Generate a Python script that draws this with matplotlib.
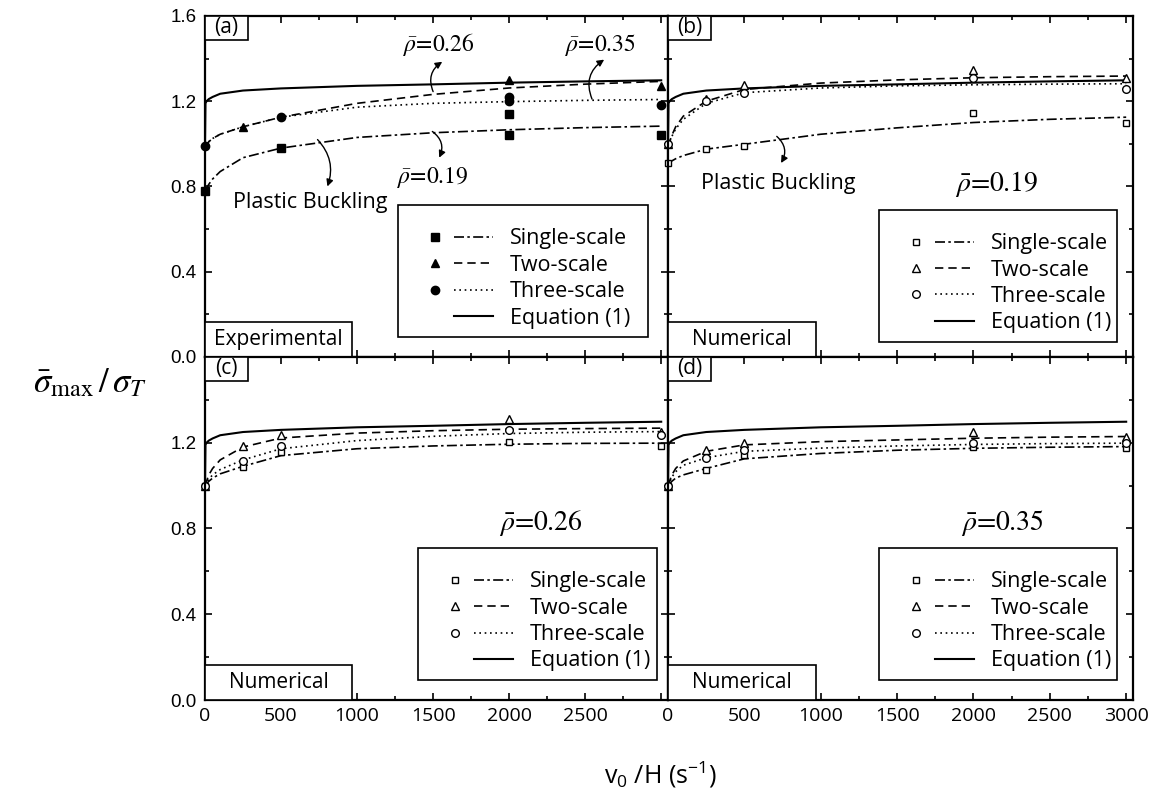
import matplotlib
matplotlib.use("Agg")
import matplotlib.pyplot as plt
from matplotlib.lines import Line2D
from matplotlib.patches import Rectangle
from matplotlib.legend_handler import HandlerBase
from matplotlib.ticker import MultipleLocator

# ---- data ----
eq_x = [0, 3, 10, 25, 50, 100, 250, 500, 1000, 1500, 2000, 2500, 3000]
eq_y = [1.0, 1.19, 1.20, 1.21, 1.22, 1.235, 1.25, 1.26, 1.272, 1.279, 1.287, 1.293, 1.298]

fit_x = [0, 25, 50, 100, 250, 500, 1000, 1500, 2000, 2500, 3000]

# (a) experimental
a_x_single = [0, 500, 2000, 2000, 3000]
a_single = [0.78, 0.98, 1.14, 1.04, 1.04]
a_x_two = [250, 2000, 3000]
a_two = [1.08, 1.30, 1.27]
a_x_three = [0, 500, 2000, 2000, 3000]
a_three = [0.99, 1.125, 1.22, 1.20, 1.18]
a_fit_single = [0.78, 0.81, 0.835, 0.87, 0.935, 0.98, 1.03, 1.052, 1.066, 1.076, 1.083]
a_fit_two = [0.99, 1.01, 1.025, 1.045, 1.08, 1.125, 1.19, 1.232, 1.262, 1.28, 1.293]
a_fit_three = [0.99, 1.01, 1.025, 1.045, 1.08, 1.125, 1.172, 1.19, 1.198, 1.204, 1.208]

# numerical
num_x = [0, 250, 500, 2000, 3000]
b_single = [0.91, 0.975, 0.99, 1.145, 1.10]
b_two = [1.0, 1.21, 1.275, 1.345, 1.31]
b_three = [1.0, 1.20, 1.24, 1.31, 1.255]
b_fit_single = [0.905, 0.92, 0.93, 0.945, 0.975, 0.998, 1.045, 1.075, 1.10, 1.115, 1.125]
b_fit_two = [0.99, 1.04, 1.08, 1.13, 1.20, 1.255, 1.285, 1.30, 1.31, 1.315, 1.318]
b_fit_three = [0.99, 1.035, 1.07, 1.115, 1.19, 1.24, 1.262, 1.272, 1.277, 1.28, 1.282]

c_single = [1.0, 1.088, 1.158, 1.205, 1.185]
c_two = [1.0, 1.185, 1.236, 1.31, 1.25]
c_three = [1.0, 1.115, 1.185, 1.26, 1.236]
c_fit_single = [1.0, 1.02, 1.035, 1.055, 1.09, 1.14, 1.172, 1.185, 1.193, 1.197, 1.198]
c_fit_two = [1.0, 1.05, 1.08, 1.12, 1.18, 1.222, 1.245, 1.256, 1.263, 1.266, 1.268]
c_fit_three = [1.0, 1.03, 1.05, 1.075, 1.12, 1.172, 1.21, 1.23, 1.243, 1.249, 1.252]

d_single = [1.0, 1.073, 1.143, 1.182, 1.174]
d_two = [1.0, 1.166, 1.20, 1.249, 1.228]
d_three = [1.0, 1.127, 1.166, 1.20, 1.20]
d_fit_single = [1.0, 1.02, 1.035, 1.05, 1.08, 1.125, 1.15, 1.165, 1.174, 1.179, 1.182]
d_fit_two = [1.0, 1.05, 1.08, 1.115, 1.16, 1.19, 1.205, 1.213, 1.221, 1.226, 1.229]
d_fit_three = [1.0, 1.04, 1.065, 1.095, 1.13, 1.16, 1.175, 1.185, 1.192, 1.196, 1.198]

series_names = ["Single-scale", "Two-scale", "Three-scale", "Equation (1)"]

SANS = ["Open Sans", "DejaVu Sans"]
DASHDOT = (0, (6, 2, 1.5, 2))
DASHED = (0, (5, 3))
DOTTED = (0, (1, 2.2))


class MarkerThenLine(HandlerBase):
    # marker on the left, line sample on the right (like the original legend)
    def create_artists(self, legend, orig_handle, xdescent, ydescent,
                       width, height, fontsize, trans):
        mk, ln = orig_handle
        y = height / 2 - ydescent
        x0 = -xdescent
        out = []
        if mk is not None:
            m = Line2D([x0 + 0.33 * width], [y])
            m.update_from(mk)
            m.set_linestyle("none")
            m.set_transform(trans)
            out.append(m)
        l = Line2D([x0 + 0.55 * width, x0 + width], [y, y])
        l.update_from(ln)
        l.set_marker("none")
        l.set_transform(trans)
        out.append(l)
        return out


fig = plt.figure(figsize=(11.53, 7.97), dpi=100)
rects = {
    "a": [0.1778, 0.5521, 0.4016, 0.4279],
    "b": [0.5794, 0.5521, 0.4033, 0.4279],
    "c": [0.1778, 0.1217, 0.4016, 0.4304],
    "d": [0.5794, 0.1217, 0.4033, 0.4304],
}
# legend frame placement (x0, y0, width) in axes fraction
leg_box = {
    "a": (0.417, 0.058, 0.540),
    "b": (0.454, 0.044, 0.512),
    "c": (0.460, 0.058, 0.516),
    "d": (0.454, 0.058, 0.512),
}


def draw_panel(key, mx_s, ys, mx_t, yt, mx_h, yh, fs, ft, fh, filled, kind):
    ax = fig.add_axes(rects[key])
    fc = "k" if filled else "white"
    ms = 6 if filled else 5.5
    l_s, = ax.plot(fit_x, fs, color="k", lw=1.2, ls=DASHDOT)
    l_t, = ax.plot(fit_x, ft, color="k", lw=1.2, ls=DASHED)
    l_h, = ax.plot(fit_x, fh, color="k", lw=1.2, ls=DOTTED)
    l_e, = ax.plot(eq_x, eq_y, color="k", lw=1.5)
    m_s, = ax.plot(mx_s, ys, ls="none", marker="s", ms=ms * 0.9, mfc=fc, mec="k", mew=1, clip_on=False)
    m_t, = ax.plot(mx_t, yt, ls="none", marker="^", ms=ms, mfc=fc, mec="k", mew=1, clip_on=False)
    m_h, = ax.plot(mx_h, yh, ls="none", marker="o", ms=ms, mfc=fc, mec="k", mew=1, clip_on=False)

    ax.set_xlim(0, 3045)
    ax.set_ylim(0, 1.6)
    ax.xaxis.set_major_locator(MultipleLocator(500))
    ax.xaxis.set_minor_locator(MultipleLocator(250))
    ax.yaxis.set_major_locator(MultipleLocator(0.4))
    ax.yaxis.set_minor_locator(MultipleLocator(0.2))
    ax.tick_params(which="both", direction="in", top=True, right=True, width=1.2)
    ax.tick_params(which="major", length=5)
    ax.tick_params(which="minor", length=3)
    for s in ax.spines.values():
        s.set_linewidth(1.6)

    if key in ("a", "c"):
        ax.set_yticks([0.0, 0.4, 0.8, 1.2, 1.6] if key == "a" else [0.0, 0.4, 0.8, 1.2])
        ax.set_yticklabels([f"{v:.1f}" for v in ax.get_yticks()], fontfamily="Liberation Sans", fontsize=13.5)
        ax.yaxis.set_minor_locator(MultipleLocator(0.2))
        ax.tick_params(axis="y", pad=6)
    else:
        ax.tick_params(labelleft=False)
    if key in ("c", "d"):
        ticks = [0, 500, 1000, 1500, 2000, 2500, 3000]
        ax.set_xticks(ticks)
        labs = [str(t) for t in ticks]
        if key == "c":
            labs[-1] = ""
        ax.set_xticklabels(labs, fontfamily=SANS, fontsize=14)
        ax.tick_params(axis="x", pad=5)
    else:
        ax.tick_params(labelbottom=False)

    # panel tag box and source box
    ax.add_patch(Rectangle((0, 1 - 0.07), 0.093, 0.07, transform=ax.transAxes,
                           fc="white", ec="k", lw=1.2, zorder=5, clip_on=False))
    ax.text(0.0465, 1 - 0.035, f"({key})", transform=ax.transAxes, ha="center", va="center",
            fontsize=15, fontfamily=SANS, zorder=6)
    ax.add_patch(Rectangle((0, 0), 0.3175, 0.103, transform=ax.transAxes,
                           fc="white", ec="k", lw=1.2, zorder=5, clip_on=False))
    ax.text(0.159, 0.05, kind, transform=ax.transAxes, ha="center", va="center",
            fontsize=15, fontfamily=SANS, zorder=6)

    handles = [(m_s, l_s), (m_t, l_t), (m_h, l_h), (None, l_e)]
    x0, y0, w = leg_box[key]
    leg = ax.legend(handles, series_names, handler_map={tuple: MarkerThenLine()},
                    loc="lower left", bbox_to_anchor=(x0, y0, w, 0.3), mode="expand",
                    prop={"family": SANS, "size": 15.5},
                    handlelength=4.0, handletextpad=0.8, labelspacing=0.25, borderpad=0.4,
                    title=" ", title_fontsize=6, fancybox=False, framealpha=1, borderaxespad=0)
    leg.get_frame().set_edgecolor("k")
    leg.get_frame().set_linewidth(1.2)
    return ax


ax_a = draw_panel("a", a_x_single, a_single, a_x_two, a_two, a_x_three, a_three,
                  a_fit_single, a_fit_two, a_fit_three, True, "Experimental")
ax_b = draw_panel("b", num_x, b_single, num_x, b_two, num_x, b_three,
                  b_fit_single, b_fit_two, b_fit_three, False, "Numerical")
ax_c = draw_panel("c", num_x, c_single, num_x, c_two, num_x, c_three,
                  c_fit_single, c_fit_two, c_fit_three, False, "Numerical")
ax_d = draw_panel("d", num_x, d_single, num_x, d_two, num_x, d_three,
                  d_fit_single, d_fit_two, d_fit_three, False, "Numerical")

arrow = dict(arrowstyle="-|>", color="k", lw=1.0, mutation_scale=10, shrinkA=0, shrinkB=0)
rho_kw = dict(fontfamily="STIXGeneral", math_fontfamily="stix", ha="center", va="center")

# annotations in (a)
ax_a.text(1540, 1.465, r"$\bar{\rho}$=0.26", fontsize=17, **rho_kw)
ax_a.annotate("", xy=(1560, 1.385), xytext=(1500, 1.245),
              arrowprops=dict(connectionstyle="arc3,rad=-0.4", **arrow))
ax_a.text(2600, 1.465, r"$\bar{\rho}$=0.35", fontsize=17, **rho_kw)
ax_a.annotate("", xy=(2625, 1.395), xytext=(2545, 1.21),
              arrowprops=dict(connectionstyle="arc3,rad=-0.4", **arrow))
ax_a.text(1500, 0.84, r"$\bar{\rho}$=0.19", fontsize=17, **rho_kw)
ax_a.annotate("", xy=(1540, 0.935), xytext=(1495, 1.058),
              arrowprops=dict(connectionstyle="arc3,rad=-0.4", **arrow))
ax_a.text(690, 0.725, "Plastic Buckling", fontsize=15.5, fontfamily=SANS, ha="center", va="center")
ax_a.annotate("", xy=(805, 0.80), xytext=(740, 1.02),
              arrowprops=dict(connectionstyle="arc3,rad=-0.3", **arrow))

# annotations in (b)-(d)
ax_b.text(720, 0.815, "Plastic Buckling", fontsize=15.5, fontfamily=SANS, ha="center", va="center")
ax_b.annotate("", xy=(740, 0.91), xytext=(712, 1.035),
              arrowprops=dict(connectionstyle="arc3,rad=-0.4", **arrow))
ax_b.text(2150, 0.81, r"$\bar{\rho}$=0.19", fontsize=20, **rho_kw)
ax_c.text(2210, 0.825, r"$\bar{\rho}$=0.26", fontsize=20, **rho_kw)
ax_d.text(2190, 0.825, r"$\bar{\rho}$=0.35", fontsize=20, **rho_kw)

# axis titles
fig.text(0.078, 0.52, r"$\bar{\sigma}_{\max}\,/\,\sigma_T$", fontsize=25, math_fontfamily="stix",
         ha="center", va="center")
fig.text(0.573, 0.028, r"v$_{\mathregular{0}}$ /H (s$^{\mathregular{-1}}$)", fontsize=18,
         fontfamily=SANS, ha="center", va="center")

fig.savefig("out.png", dpi=100)
